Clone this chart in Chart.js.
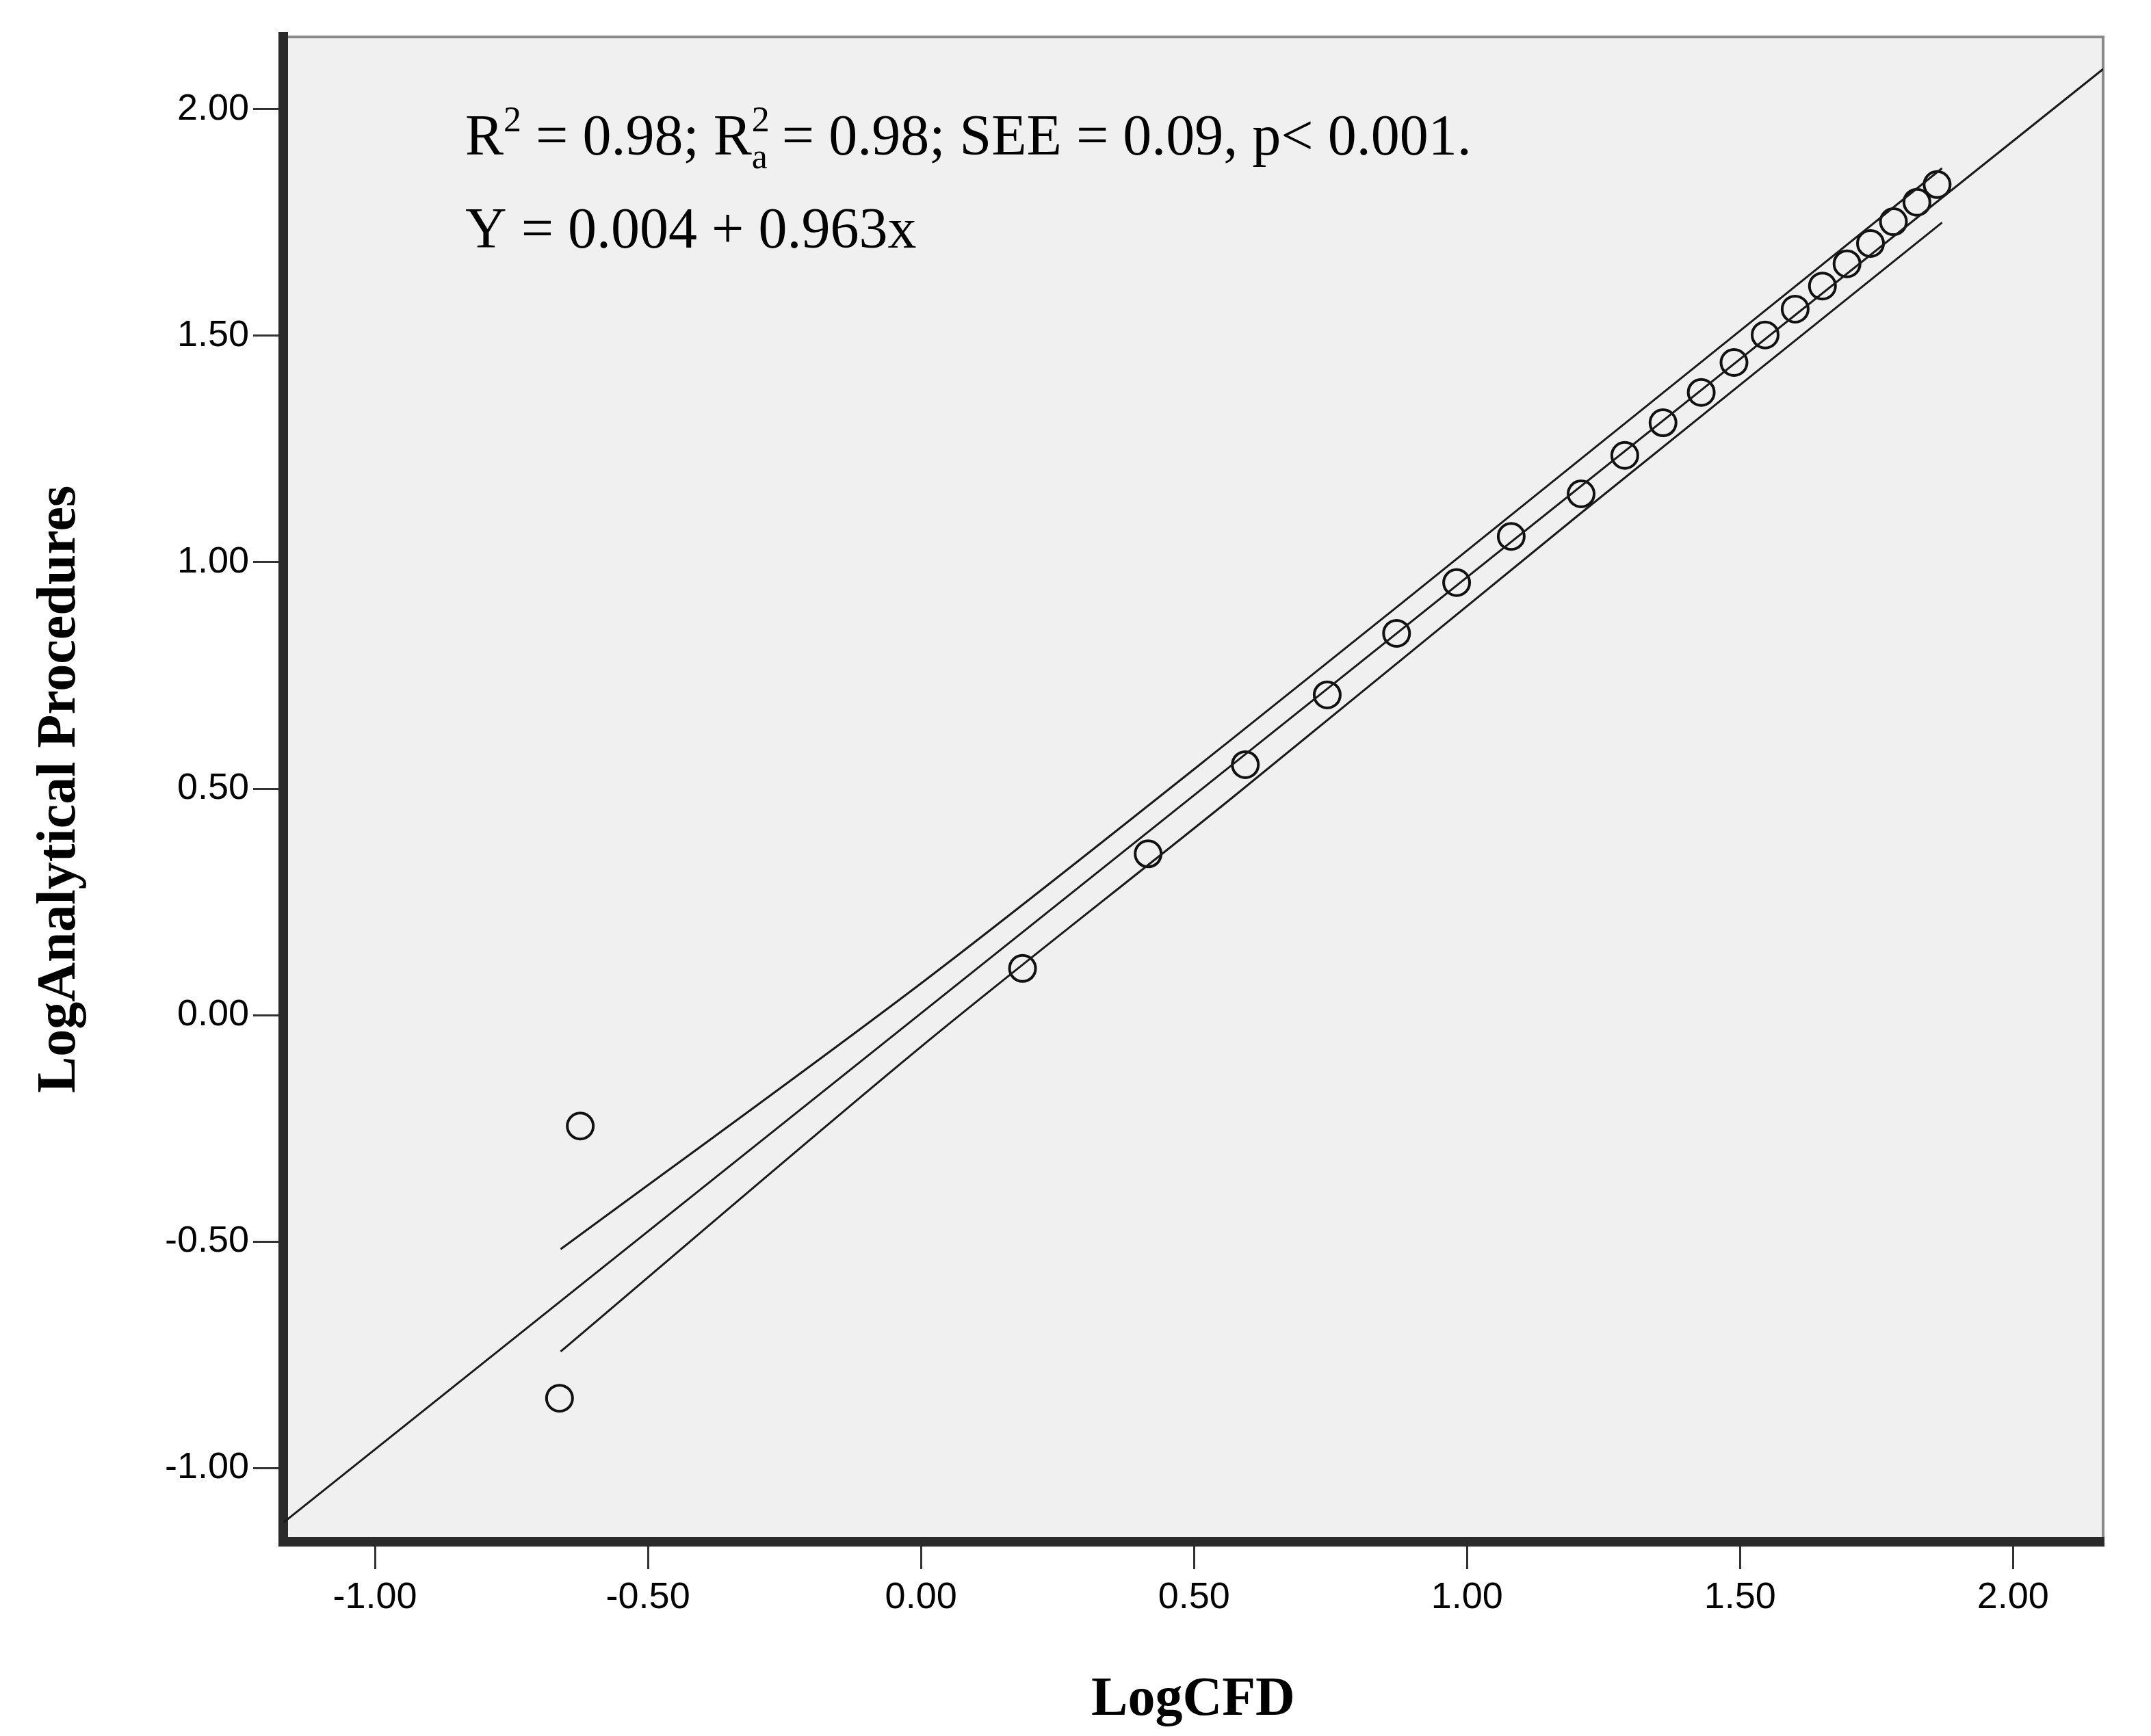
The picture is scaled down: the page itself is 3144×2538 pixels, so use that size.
<!DOCTYPE html>
<html>
<head>
<meta charset="utf-8">
<script src="https://cdn.jsdelivr.net/npm/chart.js@4/dist/chart.umd.min.js"></script>
<style>
  html, body { margin: 0; padding: 0; background: #fff; }
  #wrap { width: 3144px; height: 2538px; }
</style>
</head>
<body>
<div id="wrap"><canvas id="chart"></canvas></div>
<script>
// observed points (LogCFD, LogAnalytical Procedures)
var pointX = [-0.662, -0.624, 0.186, 0.416, 0.594, 0.744, 0.871, 0.981, 1.081, 1.209, 1.289,
              1.359, 1.429, 1.489, 1.546, 1.601, 1.651, 1.696, 1.739, 1.781, 1.824, 1.861];
var pointY = [-0.846, -0.245, 0.103, 0.356, 0.553, 0.707, 0.843, 0.955, 1.057, 1.151, 1.236,
              1.308, 1.375, 1.441, 1.502, 1.559, 1.610, 1.659, 1.704, 1.752, 1.795, 1.834];

// fit line across the whole plot
var fitX = [-1.168, 2.165];
var fitY = [-1.121, 2.089];

// band lines
var upperX = [-0.66, 0.0, 0.57, 1.2, 1.87];
var upperY = [-0.517, 0.07, 0.61, 1.22, 1.87];
var lowerX = [-0.66, 0.0, 0.57, 1.2, 1.87];
var lowerY = [-0.743, -0.07, 0.48, 1.10, 1.75];

var xTicks = [-1.0, -0.5, 0.0, 0.5, 1.0, 1.5, 2.0];
var yTicks = [-1.0, -0.5, 0.0, 0.5, 1.0, 1.5, 2.0];

function pairs(xs, ys) {
    var out = [];
    for (var i = 0; i < xs.length; i++) out.push({x: xs[i], y: ys[i]});
    return out;
}

var lineStyle = {showLine: true, borderColor: '#1a1a1a', borderWidth: 3, pointRadius: 0, fill: false, tension: 0.3};

// plot background, frame and the equation text
var decor = {
    id: 'decor',
    beforeDraw: function(chart) {
        var a = chart.chartArea, ctx = chart.ctx;
        ctx.save();
        ctx.fillStyle = '#f0f0f0';
        ctx.fillRect(a.left, a.top, a.right - a.left, a.bottom - a.top);
        ctx.strokeStyle = '#8a8a8a';
        ctx.lineWidth = 4;
        ctx.strokeRect(a.left, a.top, a.right - a.left, a.bottom - a.top);
        ctx.restore();
    },
    afterDraw: function(chart) {
        var ctx = chart.ctx;
        ctx.save();
        ctx.fillStyle = '#000';
        ctx.textBaseline = 'alphabetic';
        var big = '84px "Liberation Serif"', small = '52px "Liberation Serif"';
        var x = 680, y = 226;
        function put(t, f, dy) {
            ctx.font = f;
            ctx.fillText(t, x, y + dy);
            x += ctx.measureText(t).width;
        }
        put('R', big, 0);
        put('2', small, -34);
        put(' = 0.98; R', big, 0);
        var sx = x;
        put('2', small, -34);
        x = sx;
        put('a', small, 20);
        put(' = 0.98; SEE = 0.09, p< 0.001.', big, 0);
        ctx.font = big;
        ctx.fillText('Y = 0.004 + 0.963x', 680, 362);
        ctx.restore();
    }
};

new Chart(document.getElementById('chart'), {
    type: 'scatter',
    data: {
        datasets: [
            Object.assign({data: pairs(fitX, fitY), tension: 0}, lineStyle),
            Object.assign({data: pairs(upperX, upperY)}, lineStyle),
            Object.assign({data: pairs(lowerX, lowerY)}, lineStyle),
            {
                data: pairs(pointX, pointY),
                pointStyle: 'circle',
                pointRadius: 19,
                pointBorderWidth: 4,
                pointBorderColor: '#111',
                pointBackgroundColor: 'rgba(0,0,0,0)'
            }
        ]
    },
    options: {
        responsive: true,
        maintainAspectRatio: false,
        animation: false,
        layout: {padding: {top: 54, right: 70, left: 36, bottom: 0}},
        plugins: {legend: {display: false}, tooltip: {enabled: false}},
        scales: {
            x: {
                type: 'linear', min: -1.168, max: 2.165,
                afterBuildTicks: function(s) { s.ticks = xTicks.map(function(v) { return {value: v}; }); },
                afterFit: function(s) { s.height = 284; },
                border: {color: '#2a2a2a', width: 14},
                grid: {drawOnChartArea: false, color: '#333', lineWidth: 3, tickLength: 40},
                ticks: {color: '#000', padding: 10, maxRotation: 0,
                        font: {family: '"Liberation Sans"', size: 54},
                        callback: function(v) { return v.toFixed(2); }},
                title: {display: true, text: 'LogCFD', color: '#000', padding: {top: 20},
                        font: {family: '"Liberation Serif"', size: 80, weight: 'bold'}}
            },
            y: {
                type: 'linear', min: -1.163, max: 2.16,
                afterBuildTicks: function(s) { s.ticks = yTicks.map(function(v) { return {value: v}; }); },
                afterFit: function(s) { s.width = 378; },
                border: {color: '#2a2a2a', width: 14},
                grid: {drawOnChartArea: false, color: '#333', lineWidth: 3, tickLength: 44},
                ticks: {color: '#000', padding: 6,
                        font: {family: '"Liberation Sans"', size: 54},
                        callback: function(v) { return v.toFixed(2); }},
                title: {display: true, text: 'LogAnalytical Procedures', color: '#000', padding: {bottom: 20},
                        font: {family: '"Liberation Serif"', size: 80, weight: 'bold'}}
            }
        }
    },
    plugins: [decor]
});
</script>
</body>
</html>
